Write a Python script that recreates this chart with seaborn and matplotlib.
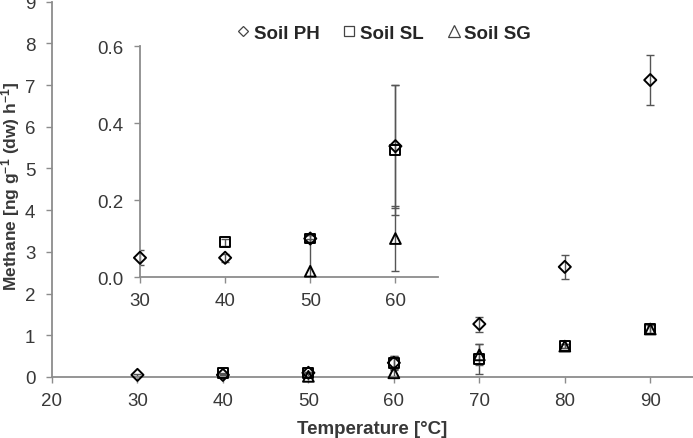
import numpy as np
import pandas as pd
import seaborn as sns
import matplotlib.pyplot as plt
from matplotlib.lines import Line2D
from matplotlib.ticker import FormatStrFormatter

# data
temps = [30, 40, 50, 60, 70, 80, 90]
ph = [0.05, 0.05, 0.10, 0.34, 1.27, 2.64, 7.12]
ph_err = [0.02, 0.01, 0.01, 0.16, 0.18, 0.29, 0.60]
sl = [np.nan, 0.09, 0.10, 0.33, 0.43, 0.74, 1.15]
sl_err = [np.nan, 0.01, 0.01, 0.17, 0.35, 0.05, 0.10]
sg = [np.nan, np.nan, 0.015, 0.10, 0.53, 0.74, 1.15]
sg_err = [np.nan, np.nan, 0.085, 0.085, 0.25, 0.05, 0.10]
soil_names = ["Soil PH", "Soil SL", "Soil SG"]

frames = []
for name, vals, errs in zip(soil_names, [ph, sl, sg], [ph_err, sl_err, sg_err]):
    frames.append(pd.DataFrame({"Temperature": temps, "Methane": vals, "err": errs, "Soil": name}))
df = pd.concat(frames).dropna()

sns.set_style("white")
plt.rcParams["font.family"] = ["Liberation Sans", "DejaVu Sans"]
plt.rcParams["mathtext.default"] = "regular"

markers = {"Soil PH": "D", "Soil SL": "s", "Soil SG": "^"}
sizes = {"Soil PH": 38, "Soil SL": 50, "Soil SG": 60}
grey = "#8c8c8c"
txt = "#383838"

fig = plt.figure(figsize=(6.93, 4.39), dpi=100)
ax = fig.add_axes([0.075, 0.139, 0.925, 0.855])
inset = fig.add_axes([0.202, 0.3667, 0.430, 0.526])


def draw(a, d):
    for name in soil_names:
        s = d[d["Soil"] == name]
        a.errorbar(s["Temperature"], s["Methane"], yerr=s["err"], fmt="none",
                   ecolor="#555555", elinewidth=1.0, capsize=3, capthick=1.0, zorder=2)
    for name in soil_names:
        s = d[d["Soil"] == name]
        sns.scatterplot(data=s, x="Temperature", y="Methane", marker=markers[name],
                        s=sizes[name], facecolor="none", edgecolor="black", linewidth=1.4,
                        ax=a, zorder=3, clip_on=False, legend=False)


draw(ax, df)
draw(inset, df[df["Temperature"] <= 60])

for a in (ax, inset):
    sns.despine(ax=a)
    for sp in ("left", "bottom"):
        a.spines[sp].set_color(grey)
        a.spines[sp].set_linewidth(1.3)
    a.tick_params(direction="out", length=4, width=1, color=grey, labelsize=13.5,
                  labelcolor=txt, left=True, bottom=True)
    a.tick_params(axis="x", pad=7)
    a.tick_params(axis="y", pad=8)
    a.set_xlabel("")
    a.set_ylabel("")
    a.patch.set_alpha(0)

ax.set_xlim(20, 95)
ax.set_ylim(0, 9)
ax.set_xticks([20, 30, 40, 50, 60, 70, 80, 90])
ax.set_yticks(range(0, 10))
ax.set_xlabel("Temperature [°C]", fontsize=13.5, fontweight="bold", color=txt, labelpad=8)
ax.set_ylabel("Methane [ng g$^{-1}$ (dw) h$^{-1}$]", fontsize=12.5, fontweight="bold", color=txt)
ax.yaxis.set_label_coords(-0.046, 0.51)

inset.set_xlim(30, 65)
inset.set_ylim(0, 0.6)
inset.set_xticks([30, 40, 50, 60])
inset.set_yticks([0.0, 0.2, 0.4, 0.6])
inset.yaxis.set_major_formatter(FormatStrFormatter("%.1f"))

handles = [Line2D([], [], linestyle="none", marker=markers[n], markersize=ms,
                  markerfacecolor="none", markeredgecolor="#444444", markeredgewidth=0.9)
           for n, ms in zip(soil_names, [5.5, 7, 8])]
ax.legend(handles, soil_names, loc="center", bbox_to_anchor=(0.553, 0.922),
          bbox_transform=fig.transFigure, ncol=3, frameon=False,
          handlelength=0.8, handletextpad=0.15, columnspacing=1.2,
          prop={"weight": "bold", "size": 13.5})

fig.savefig("out.png", dpi=100)
